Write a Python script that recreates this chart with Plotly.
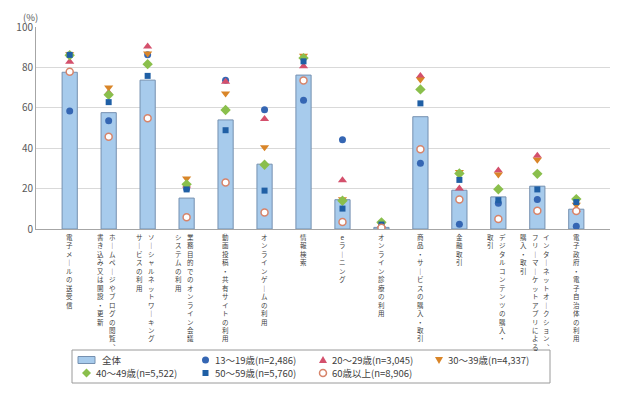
import plotly.graph_objects as go

# categories; "\n" separates vertical columns (first column is the rightmost)
categories = [
    "電子メールの送受信",
    "ホームページやブログの閲覧、\n書き込み又は開設・更新",
    "ソーシャルネットワーキング\nサービスの利用",
    "業務目的でのオンライン会議\nシステムの利用",
    "動画投稿・共有サイトの利用",
    "オンラインゲームの利用",
    "情報検索",
    "eラーニング",
    "オンライン診療の利用",
    "商品・サービスの購入・取引",
    "金融取引",
    "デジタルコンテンツの購入・\n取引",
    "インターネットオークション、\nフリーマーケットアプリによる\n購入・取引",
    "電子政府・電子自治体の利用",
]

total = [77.6, 57.6, 73.7, 15.3, 54.0, 32.1, 76.2, 14.5, 0.8, 55.6, 19.2, 15.9, 21.2, 9.8]
age_13_19 = [58.4, 53.6, 86.3, 20.0, 73.7, 59.0, 63.7, 44.2, 0.8, 32.6, 2.4, 12.7, 14.6, 1.3]
age_20_29 = [82.8, 67.5, 90.4, 21.5, 72.9, 54.4, 80.6, 24.1, 1.8, 75.7, 20.0, 29.0, 36.3, 9.5]
age_30_39 = [86.5, 70.0, 86.9, 25.0, 67.1, 40.5, 85.8, 14.7, 2.2, 74.0, 28.2, 27.0, 34.3, 12.0]
age_40_49 = [86.0, 66.4, 81.6, 22.1, 58.9, 31.8, 84.6, 14.0, 3.3, 69.1, 27.5, 19.7, 27.3, 14.8]
age_50_59 = [86.2, 62.8, 75.8, 19.6, 48.9, 19.0, 83.0, 10.1, 2.2, 62.2, 24.3, 14.3, 19.6, 13.3]
age_60_up = [77.8, 45.7, 54.8, 5.8, 23.0, 8.2, 73.5, 3.5, 0.6, 39.5, 14.6, 4.9, 9.0, 8.9]

series_names = [
    "全体",
    "13～19歳(n=2,486)",
    "20～29歳(n=3,045)",
    "30～39歳(n=4,337)",
    "40～49歳(n=5,522)",
    "50～59歳(n=5,760)",
    "60歳以上(n=8,906)",
]

FONT = "Noto Sans CJK JP"
BAR_FILL, BAR_LINE = "#a7cbec", "#7590b0"
W, H = 626, 409
ML, MR, MT, MB = 36, 16, 27, 180
PW, PH = W - ML - MR, H - MT - MB

x = [c.replace("\n", "") for c in categories]

fig = go.Figure()
fig.add_trace(go.Bar(
    x=x, y=total, name=series_names[0], width=0.39,
    marker=dict(color=BAR_FILL, line=dict(color=BAR_LINE, width=1)),
))

styles = [
    (age_13_19, dict(symbol="circle", size=7, color="#3566b3")),
    (age_20_29, dict(symbol="triangle-up", size=8, color="#d4506c")),
    (age_30_39, dict(symbol="triangle-down", size=8, color="#d98528")),
    (age_40_49, dict(symbol="diamond", size=8, color="#8abf4c")),
    (age_50_59, dict(symbol="square", size=6, color="#1f5fa5")),
    (age_60_up, dict(symbol="circle", size=7, color="#ffffff",
                     line=dict(color="#d7846a", width=1.5))),
]
for (vals, mk), name in zip(styles, series_names[1:]):
    fig.add_trace(go.Scatter(x=x, y=vals, name=name, mode="markers", marker=mk))

# vertical (tategaki) category labels, one column of stacked characters each
vert = {"ー": "｜", "、": "︑"}
annotations = []
for cat, label in zip(x, categories):
    cols = label.split("\n")
    n = len(cols)
    center = -2 if n > 1 else 0
    for j, col in enumerate(cols):
        annotations.append(dict(
            x=cat, xref="x", y=0, yref="paper", yanchor="top",
            xshift=center + ((n - 1) / 2 - j) * 11.5, yshift=-2,
            showarrow=False, borderpad=0,
            text="<br>".join(vert.get(ch, ch) for ch in col),
            font=dict(size=6.5, color="#404040"),
        ))
annotations.append(dict(
    x=-0.025, xref="paper", y=1.09, yref="paper", text="(%)",
    showarrow=False, borderpad=0, font=dict(size=9.5, color="#595959"),
))


# legend drawn by hand (two compact rows in a framed box, below the labels)
def px_x(v):
    return (v - ML) / PW


def px_y(v):
    return (H - MB - v) / PH


ROW1, ROW2 = 360, 373
shapes = [dict(type="rect", xref="paper", yref="paper",
               x0=px_x(72), x1=px_x(550), y0=px_y(350), y1=px_y(383),
               line=dict(color="#9a9a9a", width=1), fillcolor="white")]
shapes.append(dict(type="rect", xref="paper", yref="paper",
                   x0=px_x(78), x1=px_x(95), y0=px_y(ROW1 - 3.5), y1=px_y(ROW1 + 3.5),
                   line=dict(color=BAR_LINE, width=1), fillcolor=BAR_FILL))
annotations.append(dict(x=px_x(101), y=px_y(ROW1), xref="paper", yref="paper",
                        xanchor="left", yanchor="middle", showarrow=False, borderpad=0,
                        text=series_names[0], font=dict(size=9.5, color="#404040")))

sym_paths = {
    "triangle-up": "M-4,-3L4,-3L0,4Z",
    "triangle-down": "M-4,3L4,3L0,-4Z",
    "diamond": "M0,4.5L4.5,0L0,-4.5L-4.5,0Z",
}
slots = [(205.5, ROW1), (323, ROW1), (439, ROW1),
         (86.5, ROW2), (205.5, ROW2), (323, ROW2)]
for (vals, mk), name, (sx, sy) in zip(styles, series_names[1:], slots):
    base = dict(xref="paper", yref="paper", xsizemode="pixel", ysizemode="pixel",
                xanchor=px_x(sx), yanchor=px_y(sy), fillcolor=mk["color"],
                line=mk.get("line", dict(width=0)))
    r = mk["size"] / 2
    if mk["symbol"] in sym_paths:
        shapes.append(dict(type="path", path=sym_paths[mk["symbol"]], **base))
    else:
        shapes.append(dict(type="circle" if mk["symbol"] == "circle" else "rect",
                           x0=-r, x1=r, y0=-r, y1=r, **base))
    annotations.append(dict(x=px_x(sx + 8), y=px_y(sy), xref="paper", yref="paper",
                            xanchor="left", yanchor="middle", showarrow=False,
                            borderpad=0, text=name,
                            font=dict(size=9.5, color="#404040")))

fig.update_layout(
    width=W, height=H,
    margin=dict(l=ML, r=MR, t=MT, b=MB, autoexpand=False),
    plot_bgcolor="white", paper_bgcolor="white",
    font=dict(family=FONT, color="#404040"),
    showlegend=False,
    annotations=annotations,
    shapes=shapes,
)
fig.update_xaxes(showticklabels=False, showline=True, linecolor="#a6a6a6",
                 ticks="", showgrid=False, automargin=False)
fig.update_yaxes(range=[0, 100], dtick=20, showline=True, linecolor="#a6a6a6",
                 gridcolor="#d9d9d9", ticks="", zeroline=False, automargin=False,
                 tickfont=dict(size=10, color="#595959"))

# drop the default page margin so the figure sits at the window's top-left corner
fig.write_html("out.html", config={"displayModeBar": False},
               post_script="document.body.style.margin='0';")
